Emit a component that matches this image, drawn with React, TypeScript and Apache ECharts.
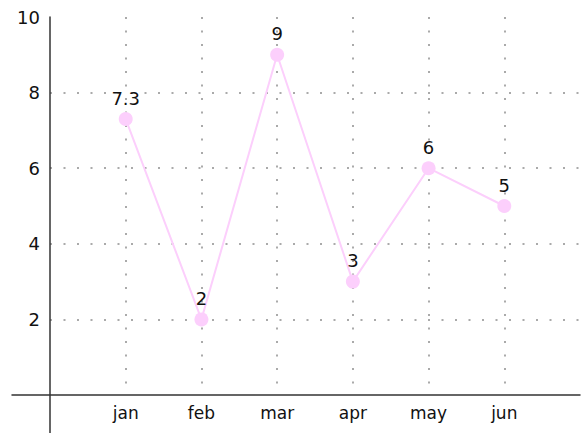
import React, { useEffect, useRef } from "react";
import * as echarts from "echarts";

const months = ["jan", "feb", "mar", "apr", "may", "jun"];
const monthPositions = [1, 2, 3, 4, 5, 6];
const values = [7.3, 2, 9, 3, 6, 5];
const yTicks = [2, 4, 6, 8, 10];

const FONT = "'DejaVu Sans', 'Noto Sans', sans-serif";

export default function App() {
  const ref = useRef<HTMLDivElement>(null);
  useEffect(() => {
    if (!ref.current) return;
    const chart = echarts.init(ref.current, undefined, { renderer: "svg" });
    const dotted = { color: "#aaaaaa", width: 2, type: [2, 11.5] as number[] };
    chart.setOption({
      animation: false,
      grid: [
        { left: 12, right: 2, top: 17, bottom: 0, containLabel: false, outerBoundsMode: "none" },
        { left: 50, right: 2, top: 17, bottom: 38, containLabel: false, outerBoundsMode: "none" },
      ],
      xAxis: [
        {
          gridIndex: 0,
          type: "value",
          min: -0.5,
          max: 7,
          axisLine: { show: true, onZero: true, lineStyle: { color: "#333", width: 1.5 } },
          axisTick: { show: false },
          splitLine: { show: false },
          axisLabel: { show: false },
        },
        {
          gridIndex: 1,
          type: "value",
          min: 0,
          max: 7,
          interval: 1,
          axisLine: { show: false },
          axisTick: { show: false },
          axisLabel: {
            customValues: monthPositions,
            formatter: (v: number) => months[monthPositions.indexOf(v)] ?? "",
            color: "#111",
            fontSize: 17,
            fontFamily: FONT,
            margin: 9,
          },
          splitLine: { show: true, showMinLine: false, showMaxLine: false, lineStyle: dotted },
        },
      ],
      yAxis: [
        {
          gridIndex: 0,
          type: "value",
          min: -1,
          max: 10,
          axisLine: { show: true, onZero: true, lineStyle: { color: "#333", width: 1.5 } },
          axisTick: { show: false },
          splitLine: { show: false },
          axisLabel: { show: false },
        },
        {
          gridIndex: 1,
          type: "value",
          min: 0,
          max: 10,
          interval: 2,
          axisLine: { show: false },
          axisTick: { show: false },
          axisLabel: {
            customValues: yTicks,
            color: "#111",
            fontSize: 18,
            fontFamily: FONT,
            margin: 10,
          },
          splitLine: { show: true, showMinLine: false, showMaxLine: false, lineStyle: dotted },
        },
      ],
      series: [
        {
          type: "line",
          xAxisIndex: 1,
          yAxisIndex: 1,
          data: values.map((v, i) => [monthPositions[i], v]),
          symbol: "circle",
          symbolSize: 14,
          lineStyle: { color: "#fccffc", width: 2 },
          itemStyle: { color: "#fccffc" },
          label: {
            show: true,
            position: "top",
            distance: 5,
            color: "#111",
            fontSize: 18,
            fontFamily: FONT,
          },
          z: 5,
        },
      ],
    });
    return () => chart.dispose();
  }, []);
  return (
    <div
      ref={ref}
      style={{ position: "fixed", left: 0, top: 0, width: 582, height: 433, background: "#fff" }}
    />
  );
}
